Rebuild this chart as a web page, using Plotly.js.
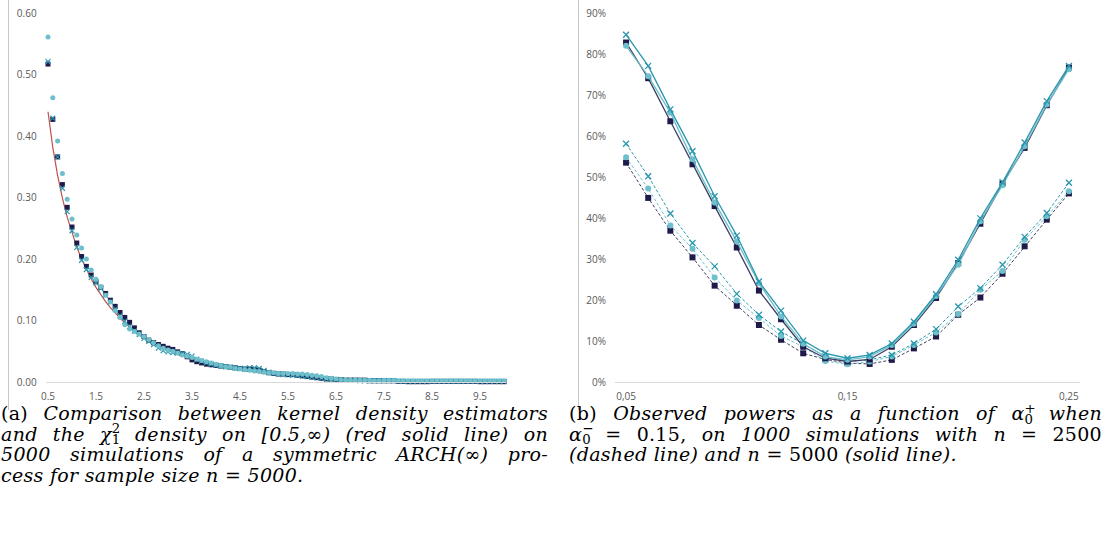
<!DOCTYPE html>
<html>
<head>
<meta charset="utf-8">
<script src="https://cdn.plot.ly/plotly-3.0.1.min.js"></script>
<style>
  html, body { margin:0; padding:0; background:#fff; }
  #wrap { position:relative; width:1104px; height:535px; overflow:hidden; }
  #plot { position:absolute; left:0; top:0; width:1104px; height:535px; }
  .cap { position:absolute; font-family:"DejaVu Serif", "Liberation Serif", "Times New Roman", serif; font-size:19px; letter-spacing:0.3px; line-height:20.5px; color:#000; }
  .cap * { font-family:"DejaVu Serif", "Liberation Serif", "Times New Roman", serif; }
  .cap .j { text-align:justify; text-align-last:justify; }
  .cap .l { text-align:left; }
  .ss { display:inline-block; position:relative; width:0.6em; height:1em; font-size:0.7em; font-style:normal; }
  .ss .up { position:absolute; left:0; top:-0.22em; line-height:0.8; }
  .ss .dn { position:absolute; left:0; top:0.6em; line-height:0.8; }
  .vline { position:absolute; width:1px; background:#c8c8c8; top:0; height:410px; }
</style>
</head>
<body>
<div id="wrap">
  <div id="plot"></div>
  <div class="vline" style="left:8px"></div>
  <div class="vline" style="left:578px"></div>
  <div class="cap" id="capA" style="left:1px; top:403px; width:547px;">
    <div class="j">(a) <i>Comparison between kernel density estimators</i></div>
    <div class="j"><i>and the &chi;</i><span class="ss"><span class="up">2</span><span class="dn">1</span></span> <i>density on [0.5,&infin;) (red solid line) on</i></div>
    <div class="j"><i>5000 simulations of a symmetric ARCH(&infin;) pro-</i></div>
    <div class="l"><i>cess for sample size n</i> = <i>5000.</i></div>
  </div>
  <div class="cap" id="capB" style="left:569px; top:403px; width:533px;">
    <div class="j">(b) <i>Observed powers as a function of &alpha;</i><span class="ss"><span class="up">+</span><span class="dn">0</span></span> <i>when</i></div>
    <div class="j"><i>&alpha;</i><span class="ss"><span class="up">&minus;</span><span class="dn">0</span></span> = 0.15, <i>on 1000 simulations with n</i> = 2500</div>
    <div class="l"><i>(dashed line) and n</i> = 5000 <i>(solid line).</i></div>
  </div>
</div>
<script>
// ---------- Panel (a): kernel density estimators ----------
const kdeX = [0.5,0.6,0.7,0.8,0.9,1.0,1.1,1.2,1.3,1.4,1.5,1.6,1.7,1.8,1.9,2.0,2.1,2.2,2.3,2.4,2.5,2.6,2.7,2.8,2.9,3.0,3.1,3.2,3.3,3.4,3.5,3.6,3.7,3.8,3.9,4.0,4.1,4.2,4.3,4.4,4.5,4.6,4.7,4.8,4.9,5.0,5.1,5.2,5.3,5.4,5.5,5.6,5.7,5.8,5.9,6.0,6.1,6.2,6.3,6.4,6.5,6.6,6.7,6.8,6.9,7.0,7.1,7.2,7.3,7.4,7.5,7.6,7.7,7.8,7.9,8.0,8.1,8.2,8.3,8.4,8.5,8.6,8.7,8.8,8.9,9.0,9.1,9.2,9.3,9.4,9.5,9.6,9.7,9.8,9.9,10.0];
const kdeSquares = [0.517,0.427,0.366,0.321,0.284,0.252,0.226,0.204,0.188,0.174,0.163,0.154,0.144,0.133,0.123,0.113,0.105,0.097,0.088,0.080,0.074,0.068,0.064,0.061,0.058,0.055,0.053,0.049,0.046,0.041,0.036,0.033,0.031,0.029,0.028,0.027,0.026,0.025,0.024,0.023,0.022,0.021,0.021,0.020,0.019,0.017,0.015,0.014,0.013,0.013,0.012,0.012,0.011,0.010,0.009,0.008,0.007,0.006,0.005,0.005,0.004,0.004,0.003,0.003,0.003,0.003,0.003,0.002,0.002,0.002,0.002,0.002,0.002,0.001,0.001,0.0005,0.0005,0.0005,0.0005,0.0005,0.001,0.001,0.001,0.001,0.001,0.001,0.001,0.001,0.001,0.001,0.0005,0.0005,0.0005,0.0005,0.0005,0.0005];
const kdeCrosses = [0.521,0.429,0.366,0.315,0.277,0.246,0.219,0.198,0.183,0.170,0.161,0.152,0.141,0.130,0.119,0.108,0.099,0.090,0.083,0.077,0.071,0.066,0.061,0.055,0.051,0.049,0.048,0.047,0.046,0.045,0.042,0.037,0.034,0.031,0.029,0.027,0.026,0.025,0.024,0.023,0.022,0.022,0.023,0.023,0.022,0.019,0.016,0.014,0.013,0.012,0.012,0.011,0.011,0.010,0.009,0.008,0.007,0.006,0.005,0.004,0.004,0.003,0.003,0.003,0.003,0.002,0.002,0.002,0.002,0.002,0.002,0.002,0.002,0.001,0.001,0.001,0.001,0.001,0.001,0.001,0.001,0.001,0.001,0.001,0.001,0.001,0.001,0.001,0.001,0.001,0.001,0.001,0.001,0.001,0.001,0.001];
const kdeCircles = [0.561,0.462,0.392,0.339,0.297,0.265,0.239,0.218,0.200,0.182,0.167,0.155,0.141,0.130,0.116,0.105,0.093,0.086,0.082,0.078,0.074,0.069,0.064,0.059,0.055,0.052,0.050,0.047,0.044,0.042,0.040,0.037,0.035,0.033,0.031,0.029,0.027,0.025,0.024,0.022,0.021,0.020,0.019,0.018,0.017,0.016,0.015,0.015,0.014,0.014,0.014,0.014,0.013,0.013,0.012,0.011,0.010,0.009,0.007,0.006,0.005,0.004,0.003,0.003,0.003,0.003,0.003,0.003,0.002,0.002,0.003,0.003,0.003,0.002,0.002,0.002,0.002,0.002,0.002,0.002,0.002,0.002,0.002,0.002,0.002,0.002,0.002,0.002,0.002,0.002,0.002,0.002,0.002,0.002,0.002,0.002];
const chiX = [0.5,0.6,0.7,0.8,0.9,1.0,1.1,1.2,1.3,1.4,1.5,1.6,1.7,1.8,1.9,2.0,2.1,2.2,2.3,2.4,2.5,2.6,2.7,2.8,2.9,3.0,3.2,3.4,3.6,3.8,4.0,4.5,5.0,5.5,6.0,6.5,7.0,7.5,8.0,8.5,9.0,9.5,10.0];
const chiY = [0.4394,0.3815,0.3360,0.2990,0.2681,0.2420,0.2194,0.1999,0.1826,0.1674,0.1539,0.1417,0.1308,0.1209,0.1119,0.1038,0.0963,0.0895,0.0833,0.0776,0.0723,0.0674,0.0629,0.0588,0.0550,0.0514,0.0450,0.0395,0.0348,0.0306,0.0270,0.0198,0.0146,0.0109,0.0081,0.0061,0.0046,0.0034,0.0026,0.0020,0.0015,0.0011,0.0009];
const kdeTickVals = [0.5,1.5,2.5,3.5,4.5,5.5,6.5,7.5,8.5,9.5];
const kdeTickText = ['0.5','1.5','2.5','3.5','4.5','5.5','6.5','7.5','8.5','9.5'];

// ---------- Panel (b): observed powers ----------
const alphaPlus = [0.05,0.06,0.07,0.08,0.09,0.10,0.11,0.12,0.13,0.14,0.15,0.16,0.17,0.18,0.19,0.20,0.21,0.22,0.23,0.24,0.25];
const p5000Squares = [0.828,0.741,0.636,0.531,0.429,0.328,0.223,0.153,0.086,0.058,0.050,0.055,0.086,0.139,0.205,0.290,0.386,0.484,0.571,0.675,0.767];
const p5000Circles = [0.820,0.746,0.657,0.543,0.438,0.343,0.241,0.160,0.093,0.062,0.054,0.062,0.090,0.142,0.210,0.286,0.392,0.480,0.575,0.677,0.763];
const p5000Crosses = [0.847,0.771,0.665,0.563,0.453,0.357,0.245,0.174,0.101,0.070,0.058,0.066,0.094,0.147,0.214,0.298,0.399,0.487,0.584,0.685,0.771];
const p2500Squares = [0.535,0.449,0.369,0.304,0.235,0.186,0.139,0.103,0.070,0.055,0.046,0.044,0.054,0.082,0.111,0.164,0.206,0.264,0.331,0.396,0.460];
const p2500Circles = [0.548,0.472,0.382,0.325,0.255,0.199,0.156,0.112,0.086,0.051,0.043,0.050,0.062,0.090,0.121,0.166,0.225,0.271,0.347,0.404,0.465];
const p2500Crosses = [0.581,0.502,0.411,0.339,0.282,0.215,0.164,0.123,0.093,0.062,0.050,0.054,0.066,0.094,0.129,0.184,0.229,0.286,0.354,0.412,0.486];
const powTickVals = [0.05,0.15,0.25];
const powTickText = ['0,05','0,15','0,25'];

const NAVY = '#1e1b4b', NAVYLINE = '#3f3d62', TEAL = '#2a97ad', LTEAL = '#6dbfcb', RED = '#c0504d';

const traces = [
  {x: chiX, y: chiY, type:'scatter', mode:'lines', line:{color:RED, width:1.2}, xaxis:'x', yaxis:'y', cliponaxis:false},
  {x: kdeX, y: kdeSquares, type:'scatter', mode:'markers', marker:{symbol:'square', size:5, color:NAVY}, xaxis:'x', yaxis:'y', cliponaxis:false},
  {x: kdeX, y: kdeCrosses, type:'scatter', mode:'markers', marker:{symbol:'x-thin-open', size:5, color:TEAL, line:{color:TEAL, width:1.2}}, xaxis:'x', yaxis:'y', cliponaxis:false},
  {x: kdeX, y: kdeCircles, type:'scatter', mode:'markers', marker:{symbol:'circle', size:5, color:LTEAL}, xaxis:'x', yaxis:'y', cliponaxis:false},

  {x: alphaPlus, y: p2500Squares, type:'scatter', mode:'lines+markers', line:{color:NAVYLINE, width:1, dash:'3px,2px'}, marker:{symbol:'square', size:6, color:NAVY}, xaxis:'x2', yaxis:'y2', cliponaxis:false},
  {x: alphaPlus, y: p2500Circles, type:'scatter', mode:'lines+markers', line:{color:LTEAL, width:1, dash:'3px,2px'}, marker:{symbol:'circle', size:6, color:LTEAL}, xaxis:'x2', yaxis:'y2', cliponaxis:false},
  {x: alphaPlus, y: p2500Crosses, type:'scatter', mode:'lines+markers', line:{color:TEAL, width:1, dash:'3px,2px'}, marker:{symbol:'x-thin-open', size:6, color:TEAL, line:{color:TEAL, width:1.3}}, xaxis:'x2', yaxis:'y2', cliponaxis:false},
  {x: alphaPlus, y: p5000Squares, type:'scatter', mode:'lines+markers', line:{color:NAVYLINE, width:1.3}, marker:{symbol:'square', size:6, color:NAVY}, xaxis:'x2', yaxis:'y2', cliponaxis:false},
  {x: alphaPlus, y: p5000Circles, type:'scatter', mode:'lines+markers', line:{color:LTEAL, width:1.3}, marker:{symbol:'circle', size:6, color:LTEAL}, xaxis:'x2', yaxis:'y2', cliponaxis:false},
  {x: alphaPlus, y: p5000Crosses, type:'scatter', mode:'lines+markers', line:{color:TEAL, width:1.3}, marker:{symbol:'x-thin-open', size:6, color:TEAL, line:{color:TEAL, width:1.3}}, xaxis:'x2', yaxis:'y2', cliponaxis:false}
];

const W = 1104, H = 535;
const yDom = [(H-382)/H, (H-13)/H];
const tickFont = {family:'Open Sans, sans-serif', size:10, color:'#595959'};

const layout = {
  width: W, height: H,
  margin: {l:0, r:0, t:0, b:0},
  paper_bgcolor:'#fff', plot_bgcolor:'#fff',
  showlegend:false,
  xaxis: {domain:[45.6/W, 506.4/W], range:[0.45, 10.05], tickmode:'array', tickvals:kdeTickVals, ticktext:kdeTickText,
          showgrid:false, zeroline:false, showline:true, linecolor:'#d9d9d9', linewidth:1, ticks:'', tickfont:tickFont, ticklabelstandoff:5, fixedrange:true},
  yaxis: {domain:yDom, range:[0, 0.6], dtick:0.1, tickformat:'.2f', showgrid:false, zeroline:false, showline:false,
          ticks:'', tickfont:tickFont, ticklabelstandoff:8, fixedrange:true},
  xaxis2: {domain:[615/W, 1080/W], range:[0.045, 0.255], tickmode:'array', tickvals:powTickVals, ticktext:powTickText,
          showgrid:false, zeroline:false, showline:true, linecolor:'#d9d9d9', linewidth:1, ticks:'', tickfont:tickFont, ticklabelstandoff:5, anchor:'y2', fixedrange:true},
  yaxis2: {domain:yDom, range:[0, 0.9], dtick:0.1, tickformat:'.0%', showgrid:false, zeroline:false, showline:false,
          ticks:'', tickfont:tickFont, ticklabelstandoff:8, anchor:'x2', fixedrange:true}
};

Plotly.newPlot('plot', traces, layout, {staticPlot:true, displayModeBar:false});
</script>
</body>
</html>
